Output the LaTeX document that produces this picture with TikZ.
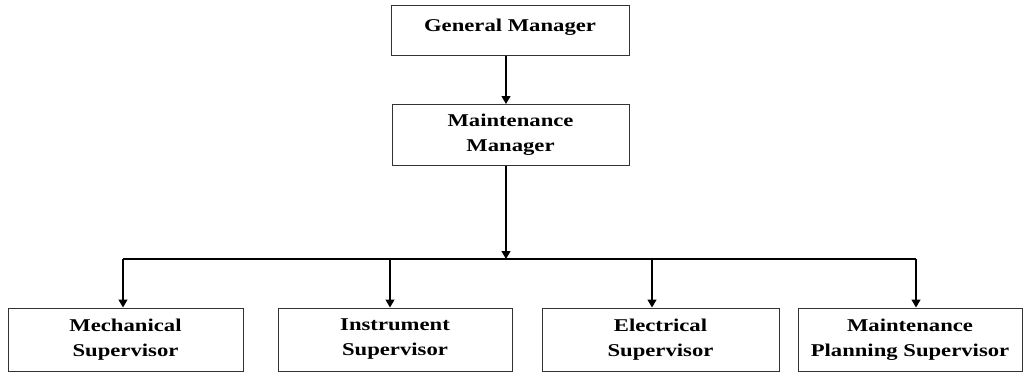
\documentclass[tikz,border=0pt]{standalone}
\usepackage{fontspec}
\setmainfont[FakeStretch=1.26]{Liberation Serif}
\usetikzlibrary{arrows.meta}
\begin{document}
\begin{tikzpicture}[x=1pt,y=-1pt,
  box/.style={draw=black!80,line width=1pt,align=center,inner sep=0pt,
    font=\fontsize{18}{25}\selectfont\bfseries},
  top/.style={execute at begin node={\rule{0pt}{#1}}},
  link/.style={line width=1.3pt,black},
  arr/.style={link,-{Triangle[length=8pt,width=9pt]}}]
\useasboundingbox (0,0) rectangle (1024,372);
\node[box,top=19.5pt,minimum width=238pt,minimum height=50pt] (gm) at (510,30) {\raisebox{6pt}[\height][\depth]{General Manager}};
\node[box,top=35pt,minimum width=237pt,minimum height=61pt] (mm) at (510.5,135) {Maintenance\\Manager};
\node[box,top=25.5pt,minimum width=235pt,minimum height=63pt] (b1) at (125.5,339.5) {Mechanical\\Supervisor};
\node[box,top=25.5pt,minimum width=234pt,minimum height=63pt] (b2) at (395,339.5) {Instrument\\Supervisor};
\node[box,top=25.5pt,minimum width=237pt,minimum height=63pt] (b3) at (660.5,339.5) {Electrical\\Supervisor};
\node[box,top=25.5pt,minimum width=224pt,minimum height=63pt] (b4) at (910,339.5) {Maintenance\\Planning Supervisor};
\coordinate (j) at (506,259);
\coordinate (s1) at (123,259);
\coordinate (s2) at (390,259);
\coordinate (s3) at (652,259);
\coordinate (s4) at (916,259);
\draw[arr] (gm.south -| j) -- (mm.north -| j);
\draw[arr] (mm.south -| j) -- (j);
\draw[link] (s1) -- (s4);
\draw[arr] (s1) -- (b1.north -| s1);
\draw[arr] (s2) -- (b2.north -| s2);
\draw[arr] (s3) -- (b3.north -| s3);
\draw[arr] (s4) -- (b4.north -| s4);
\end{tikzpicture}
\end{document}
